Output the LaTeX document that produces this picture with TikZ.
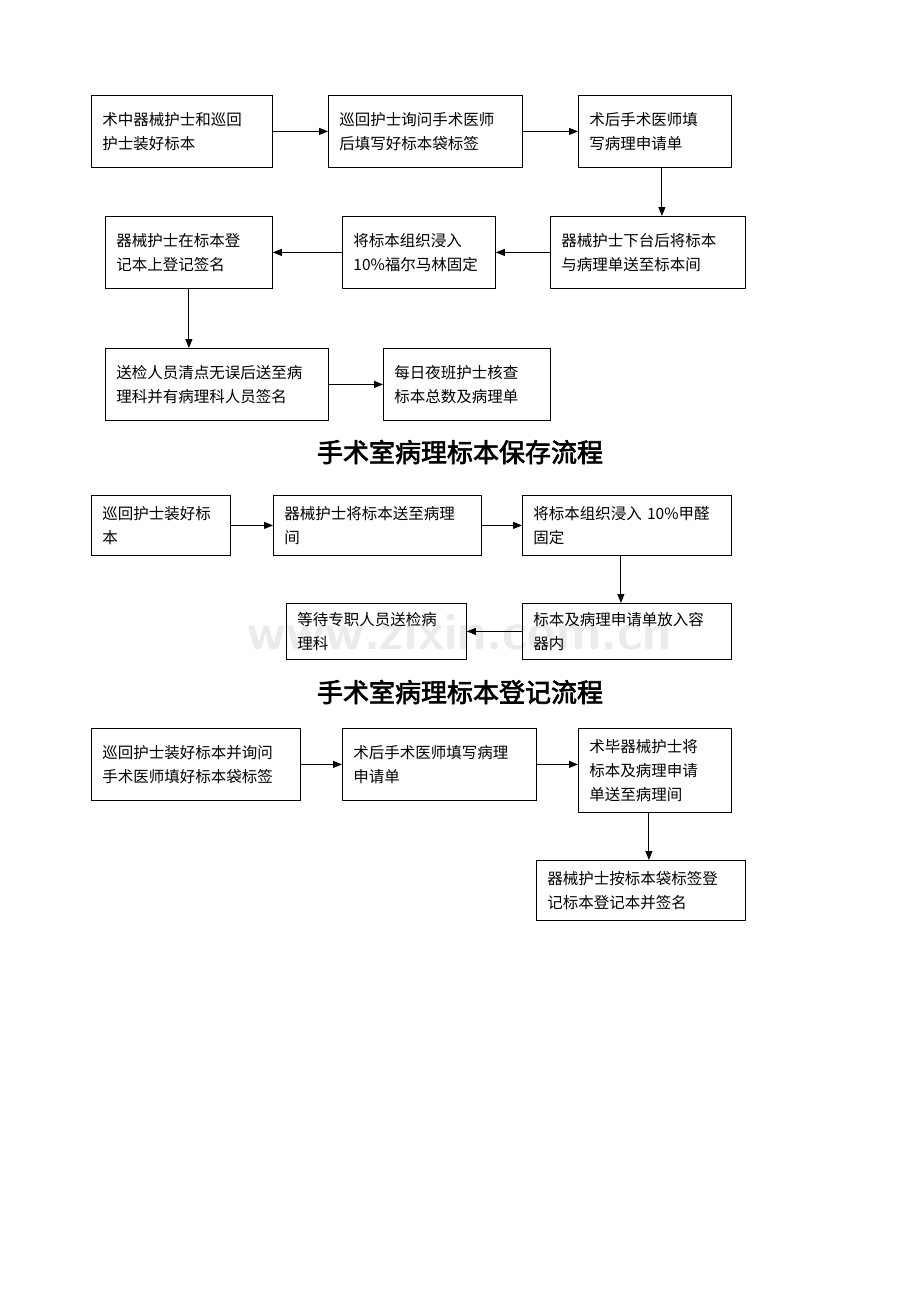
\documentclass[tikz,border=0pt]{standalone}
\usepackage{fontspec}
\usetikzlibrary{arrows.meta}
\newfontfamily\cjk[AutoFakeBold=2.5]{Noto Sans CJK SC}
\begin{document}
\begin{tikzpicture}[x=1pt,y=-1pt,
 box/.style={draw,line width=0.8pt,anchor=north west,inner xsep=11pt,inner ysep=4pt,align=left,font=\cjk\fontsize{15.5}{24}\selectfont},
 arr/.style={-{Triangle[length=9pt,width=7pt]},line width=0.9pt},
 ttl/.style={font=\cjk\bfseries\fontsize{26}{30}\selectfont}]
\useasboundingbox (0,0) rectangle (920,1302);
\node[font=\sffamily\bfseries\fontsize{52}{52}\selectfont,text=black!8] (W) at (460,632) {www.zixin.com.cn};
\newcommand\bx[6]{\node[box,minimum width=#4-#2,minimum height=#5-#3,text width=#4-#2-22] (#1) at (#2,#3) {#6};}
\bx{A}{91}{95}{272}{167}{术中器械护士和巡回\\护士装好标本}
\bx{B}{328}{95}{522}{167}{巡回护士询问手术医师\\后填写好标本袋标签}
\bx{C}{578}{95}{731}{167}{术后手术医师填\\写病理申请单}
\bx{D}{550}{216}{745}{288}{器械护士下台后将标本\\与病理单送至标本间}
\bx{E}{342}{216}{495}{288}{将标本组织浸入\\10\%福尔马林固定}
\bx{F}{105}{216}{272}{288}{器械护士在标本登\\记本上登记签名}
\bx{G}{105}{348}{328}{420}{送检人员清点无误后送至病\\理科并有病理科人员签名}
\bx{H}{383}{348}{550}{420}{每日夜班护士核查\\标本总数及病理单}
\node[ttl] (T1) at (460,452) {手术室病理标本保存流程};
\bx{I}{91}{495}{230}{555}{巡回护士装好标\\本}
\bx{J}{273}{495}{481}{555}{器械护士将标本送至病理\\间}
\bx{K}{522}{495}{731}{555}{将标本组织浸入 10\%甲醛\\固定}
\bx{L}{522}{603}{731}{659}{标本及病理申请单放入容\\器内}
\bx{M}{286}{603}{466}{659}{等待专职人员送检病\\理科}
\node[ttl] (T2) at (460,692) {手术室病理标本登记流程};
\bx{N}{91}{728}{300}{800}{巡回护士装好标本并询问\\手术医师填好标本袋标签}
\bx{O}{342}{728}{536}{800}{术后手术医师填写病理\\申请单}
\bx{P}{578}{728}{731}{812}{术毕器械护士将\\标本及病理申请\\单送至病理间}
\bx{Q}{536}{860}{745}{920}{器械护士按标本袋标签登\\记标本登记本并签名}
\draw[arr] (A.east)--(B.west);
\draw[arr] (B.east)--(C.west);
\draw[arr] ([xshift=7pt]C.south)--([xshift=7pt]C.south|-D.north);
\draw[arr] (D.west)--(E.east);
\draw[arr] (E.west)--(F.east);
\draw[arr] (F.south)--(F.south|-G.north);
\draw[arr] (G.east|-H.west)--(H.west);
\draw[arr] (I.east)--(J.west);
\draw[arr] (J.east)--(K.west);
\draw[arr] ([xshift=-6pt]K.south)--([xshift=-6pt]K.south|-L.north);
\draw[arr] (L.west)--(M.east);
\draw[arr] (N.east)--(O.west);
\draw[arr] (O.east|-N.east)--(P.west|-N.east);
\draw[arr] ([xshift=-6pt]P.south)--([xshift=-6pt]P.south|-Q.north);
\end{tikzpicture}
\end{document}
